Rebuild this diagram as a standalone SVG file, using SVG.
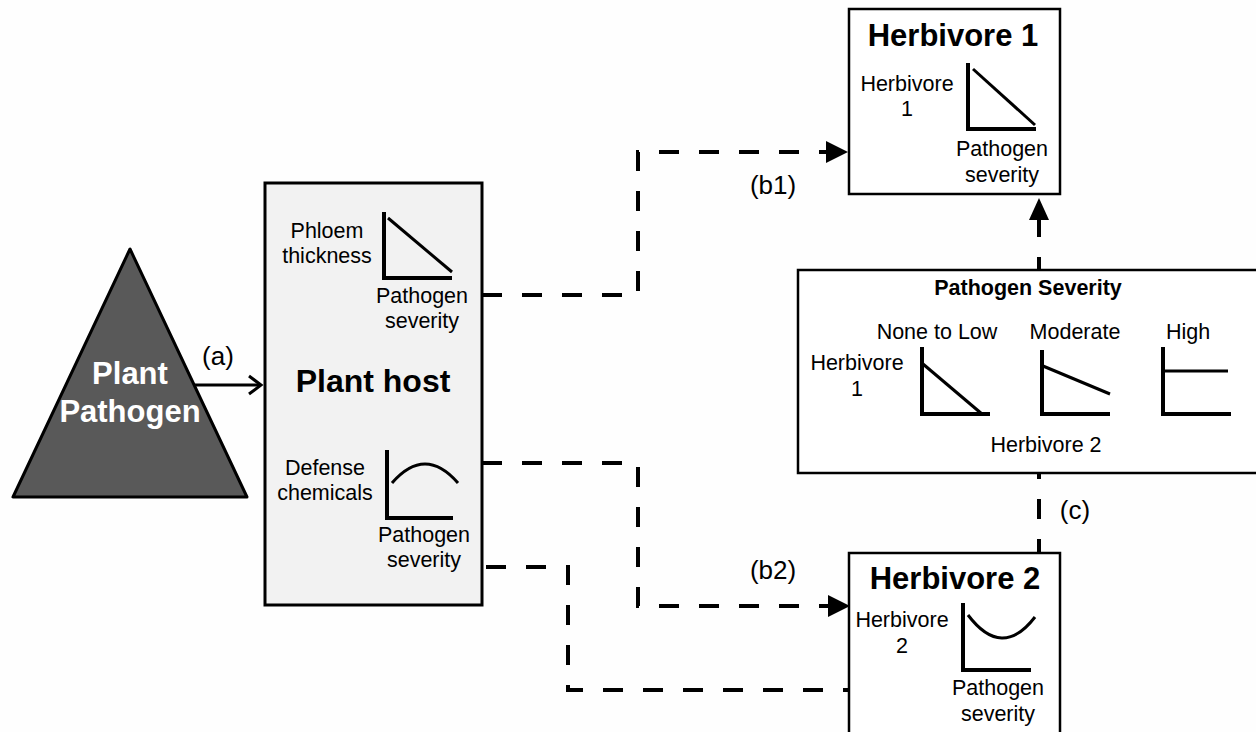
<svg xmlns="http://www.w3.org/2000/svg" width="1256" height="732" viewBox="0 0 1256 732">
<defs>
<style>
text{font-family:"Liberation Sans",Arial,sans-serif;fill:#000}
.t{font-size:21.5px;text-anchor:middle}
.c{font-size:26px;text-anchor:middle}
.b{font-weight:bold;text-anchor:middle;font-size:31px}
.ax{fill:none;stroke:#000;stroke-width:4}
.ln{fill:none;stroke:#000;stroke-width:3}
.dash{fill:none;stroke:#000;stroke-width:4;stroke-dasharray:20 20}
.box{fill:#fff;stroke:#000;stroke-width:2.5}
</style>
</defs>
<rect width="1256" height="732" fill="#fefefe"/>
<g id="connectors">
<line x1="195" y1="385" x2="260" y2="385" stroke="#000" stroke-width="3"/>
<polyline points="249,376 261,385 249,394" fill="none" stroke="#000" stroke-width="3"/>
<text x="218" y="365" class="c">(a)</text>
<polyline class="dash" points="482,295 638,295 638,152 830,152"/>
<polygon points="826,141 848,152 826,163" fill="#000"/>
<text x="773" y="194" class="c">(b1)</text>
<polyline class="dash" points="482,463 638,463 638,606 830,606"/>
<polygon points="828,595 850,606 828,617" fill="#000"/>
<text x="773" y="579" class="c">(b2)</text>
<polyline class="dash" points="486,567 568,567 568,690 849,690"/>
<line class="dash" x1="1039" y1="553" x2="1039" y2="473" stroke-dashoffset="6"/>
<line x1="1039" y1="269" x2="1039" y2="215" stroke="#000" stroke-width="4" stroke-dasharray="12 20 20 20"/>
<polygon points="1029,220 1039,198 1049,220" fill="#000"/>
<text x="1075" y="519" class="c">(c)</text>
</g>
<g id="pathogen">
<polygon points="130,249 13,497 247,497" fill="#595959" stroke="#000" stroke-width="3" stroke-linejoin="round"/>
<text x="130" y="384" class="b" style="fill:#fff">Plant</text>
<text x="130" y="422" class="b" style="fill:#fff">Pathogen</text>
</g>
<g id="plant-host">
<rect x="265" y="183" width="217" height="422" fill="#f2f2f2" stroke="#000" stroke-width="3"/>
<text x="373" y="392" class="b" style="font-size:32px">Plant host</text>
<text x="327" y="238" class="t">Phloem</text>
<text x="327" y="263" class="t">thickness</text>
<polyline class="ax" points="384,212 384,278 452,278"/>
<line class="ln" x1="388" y1="218" x2="452" y2="272"/>
<text x="422" y="303" class="t">Pathogen</text>
<text x="422" y="328" class="t">severity</text>
<text x="325" y="475" class="t">Defense</text>
<text x="325" y="500" class="t">chemicals</text>
<polyline class="ax" points="387,450 387,518 453,518"/>
<path class="ln" d="M392,483 Q425,445 458,483"/>
<text x="424" y="542" class="t">Pathogen</text>
<text x="424" y="567" class="t">severity</text>
</g>
<g id="herbivore1">
<rect class="box" x="849" y="9" width="211" height="185"/>
<text x="953" y="46" class="b">Herbivore 1</text>
<text x="907" y="91" class="t">Herbivore</text>
<text x="907" y="116" class="t">1</text>
<polyline class="ax" points="968,63 968,129 1036,129"/>
<line class="ln" x1="973" y1="69" x2="1035" y2="125"/>
<text x="1002" y="156" class="t">Pathogen</text>
<text x="1002" y="182" class="t">severity</text>
</g>
<g id="pathogen-severity">
<rect class="box" x="798" y="270" width="470" height="203"/>
<text x="1028" y="295" class="b" style="font-size:21.5px">Pathogen Severity</text>
<text x="937" y="339" class="t">None to Low</text>
<text x="1075" y="339" class="t">Moderate</text>
<text x="1188" y="339" class="t">High</text>
<text x="857" y="370" class="t">Herbivore</text>
<text x="857" y="396" class="t">1</text>
<polyline class="ax" points="922,347 922,414 990,414"/>
<line class="ln" x1="923" y1="364" x2="982" y2="414"/>
<polyline class="ax" points="1042,350 1042,414 1110,414"/>
<line class="ln" x1="1043" y1="366" x2="1110" y2="394"/>
<polyline class="ax" points="1163,347 1163,414 1231,414"/>
<line class="ln" x1="1163" y1="371" x2="1228" y2="371"/>
<text x="1046" y="452" class="t">Herbivore 2</text>
</g>
<g id="herbivore2">
<rect class="box" x="849" y="553" width="211" height="190"/>
<text x="955" y="589" class="b">Herbivore 2</text>
<text x="902" y="627" class="t">Herbivore</text>
<text x="902" y="653" class="t">2</text>
<polyline class="ax" points="963,603 963,670 1031,670"/>
<path class="ln" d="M968,615 Q1002,660 1035,617"/>
<text x="998" y="695" class="t">Pathogen</text>
<text x="998" y="721" class="t">severity</text>
</g>
</svg>
